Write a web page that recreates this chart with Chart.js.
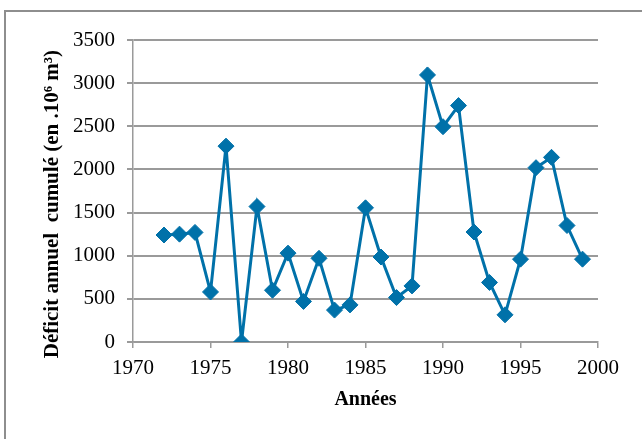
<!DOCTYPE html>
<html>
<head>
<meta charset="utf-8">
<script src="https://cdn.jsdelivr.net/npm/chart.js@4/dist/chart.umd.min.js"></script>
<style>
  html, body { margin: 0; padding: 0; background: #fff; overflow: hidden; }
  #wrap { position: relative; width: 642px; height: 439px; overflow: hidden; }
  #frame { position: absolute; left: 4px; top: 10px; width: 700px; height: 500px;
           border: 2px solid #8e8e8e; box-sizing: border-box; }
  #c { position: absolute; left: 0; top: 0; }
</style>
</head>
<body>
<div id="wrap">
  <div id="frame"></div>
  <canvas id="c" width="642" height="439"></canvas>
</div>
<script>
// Years of record
const years = [1972, 1973, 1974, 1975, 1976, 1977, 1978, 1979, 1980, 1981,
               1982, 1983, 1984, 1985, 1986, 1987, 1988, 1989, 1990, 1991,
               1992, 1993, 1994, 1995, 1996, 1997, 1998, 1999];
// Cumulated annual deficit (10^6 m3)
const deficit = [1240, 1250, 1270, 580, 2270, 0, 1570, 600, 1030, 470,
                 970, 370, 430, 1555, 985, 515, 650, 3095, 2495, 2740,
                 1275, 690, 315, 960, 2020, 2140, 1350, 960];
// Axis ticks
const xTicks = [1970, 1975, 1980, 1985, 1990, 1995, 2000];
const yTicks = [0, 500, 1000, 1500, 2000, 2500, 3000, 3500];

const blue = '#0071a9';
const gridGray = '#9a9a9a';
const serif = '"Liberation Serif", "Times New Roman", serif';

const points = years.map((y, i) => ({ x: y, y: deficit[i] }));

new Chart(document.getElementById('c'), {
  type: 'line',
  data: {
    datasets: [{
      data: points,
      borderColor: blue,
      backgroundColor: blue,
      borderWidth: 3,
      tension: 0,
      pointStyle: 'rectRot',
      pointRadius: 8,
      pointBorderWidth: 1,
      pointBackgroundColor: blue,
      pointBorderColor: blue
    }]
  },
  options: {
    responsive: false,
    animation: false,
    devicePixelRatio: 1,
    layout: { padding: { left: 0, right: 44, top: 40, bottom: 0 } },
    plugins: { legend: { display: false }, tooltip: { enabled: false } },
    scales: {
      x: {
        type: 'linear',
        min: xTicks[0],
        max: xTicks[xTicks.length - 1],
        afterBuildTicks: s => { s.ticks = xTicks.map(v => ({ value: v })); },
        afterFit: s => { s.height = 97; },
        grid: { drawOnChartArea: false, drawTicks: true, tickLength: 6, color: gridGray, lineWidth: 1.5 },
        border: { display: true, color: gridGray, width: 1.5 },
        ticks: { color: '#000', padding: 8, font: { family: serif, size: 21 },
                 callback: v => String(v) },
        title: { display: true, text: 'Années', color: '#000', padding: { top: 0, bottom: 27 },
                 font: { family: serif, size: 20, weight: 'bold' } }
      },
      y: {
        min: yTicks[0],
        max: yTicks[yTicks.length - 1],
        afterBuildTicks: s => { s.ticks = yTicks.map(v => ({ value: v })); },
        afterFit: s => { s.width = 133; },
        grid: { drawOnChartArea: true, drawTicks: true, tickLength: 6, color: gridGray, lineWidth: 2 },
        border: { display: true, color: gridGray, width: 1.5 },
        ticks: { color: '#000', padding: 12, font: { family: serif, size: 21 },
                 callback: v => String(v) },
        title: { display: true, text: 'Déficit annuel  cumulé (en .10⁶ m³)     ', color: '#000',
                 padding: { top: 40, bottom: 0 },
                 font: { family: serif, size: 21, weight: 'bold' } }
      }
    }
  }
});
</script>
</body>
</html>
